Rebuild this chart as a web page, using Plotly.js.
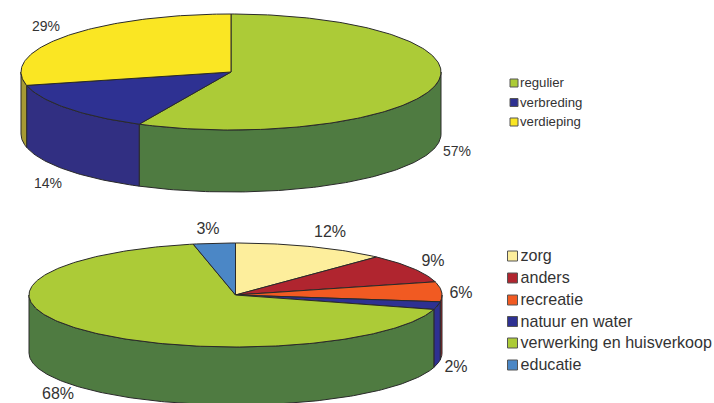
<!DOCTYPE html>
<html>
<head>
<meta charset="utf-8">
<script src="https://cdn.plot.ly/plotly-3.0.1.min.js"></script>
<style>html,body{margin:0;padding:0;background:#fff;overflow:hidden}#chart{width:714px;height:403px}</style>
</head>
<body>
<div id="chart"></div>
<script>
// Data
const topCategories = ["regulier", "verbreding", "verdieping"];
const topValues = [57.2, 14.1, 28.7];
const bottomCategories = ["zorg", "anders", "recreatie", "natuur en water", "verwerking en huisverkoop", "educatie"];
const bottomValues = [12, 9, 6.2, 2.4, 67.5, 3.3];

// Styles
const topColors = ["#accb37", "#2e3192", "#fae623"];
const topSideColors = ["#4f7b41", "#312f82", "#a69a33"];
const bottomColors = ["#fdee9c", "#b0252f", "#f15a22", "#2e3192", "#accb37", "#4b87c6"];
const bottomSideColors = ["#b5a56a", "#8a2029", "#a5262c", "#2e3192", "#4f7b41", "#3a6a9e"];

const topPie = {cx: 231, cy: 72, rx: 210, ry: 58, depth: 62};
const bottomPie = {cx: 235.5, cy: 295, rx: 206.5, ry: 52, depth: 58};
const topLabelPos = [[457, 152], [48, 184], [46, 27]];
const bottomLabelPos = [[330, 233], [433, 262], [461, 294], [456, 368], [58, 394.5], [208, 230]];
const topLegend = {x: 514, textX: 520, y: [83, 102.5, 122], size: 8, font: 13.2};
const bottomLegend = {x: 512.5, textX: 520.5, y: [256, 278, 300, 321.5, 343, 365], size: 10, font: 16.1};

const EDGE = "#2a2a2a";
const FONT = '"Liberation Sans", Arial, sans-serif';
const traces = [];

function pt(p, deg, dy) {
  const a = deg * Math.PI / 180;
  return [p.cx + p.rx * Math.sin(a), p.cy - p.ry * Math.cos(a) + (dy || 0)];
}
function arc(p, a0, a1, dy) {
  const out = [], n = Math.max(2, Math.ceil(Math.abs(a1 - a0)));
  for (let i = 0; i <= n; i++) out.push(pt(p, a0 + (a1 - a0) * i / n, dy));
  return out;
}
function poly(points, color) {
  traces.push({
    type: "scatter", mode: "lines", fill: "toself", fillcolor: color,
    x: points.map(q => q[0]), y: points.map(q => q[1]),
    line: {color: EDGE, width: 1}, hoverinfo: "skip", showlegend: false
  });
}
function drawPie(p, values, colors, sideColors) {
  const total = values.reduce((s, v) => s + v, 0);
  let acc = 0;
  const spans = values.map(v => {
    const s = [acc / total * 360, (acc + v) / total * 360];
    acc += v;
    return s;
  });
  spans.forEach((s, i) => {
    const a0 = Math.max(s[0], 90), a1 = Math.min(s[1], 270);
    if (a1 > a0) poly(arc(p, a0, a1, 0).concat(arc(p, a1, a0, p.depth)).concat([pt(p, a0, 0)]), sideColors[i]);
  });
  spans.forEach((s, i) => {
    poly([[p.cx, p.cy]].concat(arc(p, s[0], s[1], 0)).concat([[p.cx, p.cy]]), colors[i]);
  });
}
function drawLabels(values, pos, size) {
  traces.push({
    type: "scatter", mode: "text", x: pos.map(q => q[0]), y: pos.map(q => q[1]),
    text: values.map(v => Math.round(v) + "%"), textposition: "middle center",
    textfont: {family: FONT, size: size, color: "#333333"},
    hoverinfo: "skip", showlegend: false, cliponaxis: false
  });
}
function drawKey(cats, colors, k) {
  traces.push({
    type: "scatter", mode: "markers", x: cats.map(() => k.x), y: k.y,
    marker: {symbol: "square", size: k.size, color: colors, line: {color: "#555555", width: 1}},
    hoverinfo: "skip", showlegend: false, cliponaxis: false
  });
  traces.push({
    type: "scatter", mode: "text", x: cats.map(() => k.textX), y: k.y.map(v => v + 1),
    text: cats, textposition: "middle right",
    textfont: {family: FONT, size: k.font, color: "#333333"},
    hoverinfo: "skip", showlegend: false, cliponaxis: false
  });
}

drawPie(topPie, topValues, topColors, topSideColors);
drawPie(bottomPie, bottomValues, bottomColors, bottomSideColors);
drawLabels(topValues, topLabelPos, 14);
drawLabels(bottomValues, bottomLabelPos, 16);
drawKey(topCategories, topColors, topLegend);
drawKey(bottomCategories, bottomColors, bottomLegend);

const axis = {visible: false, showgrid: false, zeroline: false, fixedrange: true};
Plotly.newPlot("chart", traces, {
  width: 714, height: 403,
  margin: {l: 0, r: 0, t: 0, b: 0},
  paper_bgcolor: "#ffffff", plot_bgcolor: "#ffffff",
  showlegend: false,
  xaxis: Object.assign({range: [0, 714]}, axis),
  yaxis: Object.assign({range: [403, 0]}, axis)
}, {displayModeBar: false, responsive: false});
</script>
</body>
</html>
